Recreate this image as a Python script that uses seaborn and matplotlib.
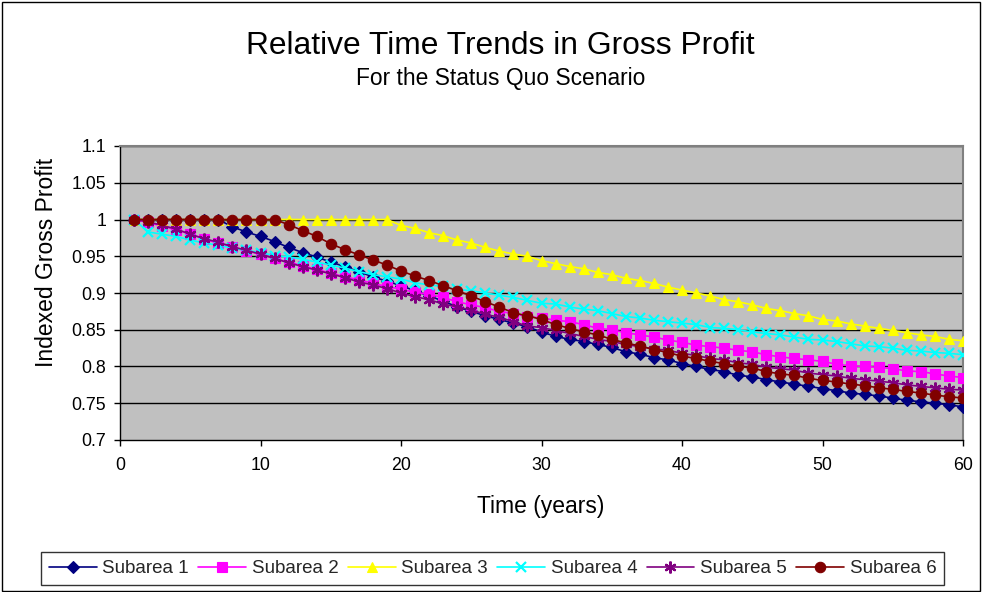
import numpy as np
import pandas as pd
import seaborn as sns
import matplotlib
matplotlib.use("Agg")
import matplotlib.pyplot as plt
from matplotlib.patches import Rectangle
from matplotlib.lines import Line2D

# Data: indexed gross profit by subarea, years 1-60
years = list(range(1, 61))

subarea_1 = [1.0, 1.0, 1.0, 1.0, 1.0, 1.0, 1.0, 0.990, 0.983, 0.977,
             0.970, 0.962, 0.955, 0.949, 0.942, 0.936, 0.929, 0.922, 0.916, 0.910,
             0.903, 0.896, 0.889, 0.881, 0.875, 0.869, 0.864, 0.859, 0.854, 0.847,
             0.841, 0.837, 0.834, 0.830, 0.826, 0.820, 0.817, 0.812, 0.809, 0.804,
             0.800, 0.796, 0.793, 0.788, 0.786, 0.782, 0.779, 0.776, 0.773, 0.770,
             0.767, 0.764, 0.762, 0.760, 0.757, 0.754, 0.752, 0.750, 0.748, 0.745]

subarea_2 = [1.0, 0.996, 0.991, 0.986, 0.980, 0.973, 0.968, 0.962, 0.957, 0.953,
             0.947, 0.942, 0.937, 0.932, 0.927, 0.922, 0.918, 0.913, 0.909, 0.905,
             0.901, 0.898, 0.894, 0.888, 0.884, 0.880, 0.875, 0.872, 0.868, 0.866,
             0.863, 0.861, 0.857, 0.852, 0.850, 0.846, 0.843, 0.840, 0.836, 0.833,
             0.829, 0.827, 0.825, 0.822, 0.820, 0.816, 0.813, 0.811, 0.809, 0.807,
             0.803, 0.801, 0.800, 0.799, 0.797, 0.794, 0.793, 0.790, 0.787, 0.785]

subarea_3 = [1.0] * 19 + [
             0.992, 0.988, 0.982, 0.978, 0.972, 0.968, 0.962, 0.957, 0.953, 0.950,
             0.944, 0.940, 0.936, 0.933, 0.928, 0.925, 0.920, 0.917, 0.913, 0.908,
             0.904, 0.900, 0.896, 0.891, 0.888, 0.884, 0.879, 0.876, 0.872, 0.869,
             0.864, 0.862, 0.858, 0.855, 0.852, 0.849, 0.846, 0.843, 0.841, 0.837,
             0.835]

subarea_4 = [1.0, 0.983, 0.980, 0.977, 0.972, 0.968, 0.965, 0.961, 0.958, 0.955,
             0.951, 0.949, 0.946, 0.942, 0.938, 0.934, 0.929, 0.925, 0.922, 0.919,
             0.914, 0.911, 0.909, 0.905, 0.903, 0.900, 0.897, 0.894, 0.890, 0.886,
             0.885, 0.881, 0.878, 0.876, 0.872, 0.868, 0.866, 0.863, 0.861, 0.859,
             0.857, 0.853, 0.852, 0.850, 0.847, 0.845, 0.843, 0.840, 0.837, 0.836,
             0.834, 0.831, 0.828, 0.827, 0.825, 0.822, 0.821, 0.819, 0.818, 0.816]

subarea_5 = [1.0, 0.997, 0.992, 0.987, 0.980, 0.974, 0.969, 0.963, 0.958, 0.953,
             0.947, 0.941, 0.936, 0.931, 0.926, 0.921, 0.915, 0.911, 0.906, 0.900,
             0.895, 0.891, 0.885, 0.881, 0.877, 0.871, 0.867, 0.861, 0.855, 0.853,
             0.849, 0.845, 0.841, 0.837, 0.834, 0.830, 0.827, 0.824, 0.822, 0.818,
             0.815, 0.811, 0.809, 0.805, 0.803, 0.799, 0.797, 0.795, 0.791, 0.789,
             0.787, 0.784, 0.782, 0.780, 0.778, 0.775, 0.773, 0.771, 0.769, 0.768]

subarea_6 = [1.0] * 11 + [
             0.993, 0.985, 0.977, 0.967, 0.959, 0.952, 0.945, 0.938, 0.930,
             0.923, 0.917, 0.910, 0.903, 0.896, 0.888, 0.881, 0.873, 0.869, 0.864,
             0.857, 0.852, 0.847, 0.843, 0.837, 0.832, 0.828, 0.823, 0.819, 0.814,
             0.811, 0.807, 0.804, 0.800, 0.798, 0.793, 0.790, 0.788, 0.784, 0.781,
             0.779, 0.776, 0.774, 0.771, 0.769, 0.766, 0.764, 0.761, 0.759, 0.757]

series_names = ["Subarea 1", "Subarea 2", "Subarea 3",
                "Subarea 4", "Subarea 5", "Subarea 6"]
series_values = [subarea_1, subarea_2, subarea_3, subarea_4, subarea_5, subarea_6]

x_ticks = [0, 10, 20, 30, 40, 50, 60]
y_ticks = [0.7, 0.75, 0.8, 0.85, 0.9, 0.95, 1.0, 1.05, 1.1]
y_tick_labels = ["0.7", "0.75", "0.8", "0.85", "0.9", "0.95", "1", "1.05", "1.1"]

# Visual style per series
colors = ["#000080", "#FF00FF", "#FFFF00", "#00FFFF", "#800080", "#800000"]
markers = ["D", "s", "^", "x", (6, 2, 0), "o"]
msizes = [6.0, 6.5, 7.5, 7.5, 8.5, 7.5]
filled = [True, True, True, False, False, True]

sns.set_theme(style="white")
plt.rcParams["font.family"] = ["Liberation Sans", "DejaVu Sans"]

fig = plt.figure(figsize=(9.83, 5.92), dpi=100)
fig.patch.set_facecolor("white")
ax = fig.add_axes([120 / 983, 1 - 440 / 592, (963 - 120) / 983, (440 - 146) / 592])
ax.set_facecolor("#C0C0C0")

# Horizontal gridlines
for yv in y_ticks[1:]:
    ax.axhline(yv, color="black", lw=1.0, zorder=1)

df = pd.DataFrame({"year": years})
for name, vals, c, m, ms, f in zip(series_names, series_values, colors, markers, msizes, filled):
    df[name] = vals
    kw = dict(marker=m, markersize=ms, markeredgecolor=c, linewidth=1.2)
    if f:
        kw["markerfacecolor"] = c
        kw["markeredgewidth"] = 0.8
    else:
        kw["markeredgewidth"] = 1.6
    sns.lineplot(data=df, x="year", y=name, ax=ax, color=c, zorder=3, **kw)

ax.set_xlim(0, 60)
ax.set_ylim(0.7, 1.1)
ax.set_xticks(x_ticks)
ax.set_xticklabels([str(v) for v in x_ticks])
ax.set_yticks(y_ticks)
ax.set_yticklabels(y_tick_labels)
ax.tick_params(axis="both", direction="out", length=4, width=1, color="black",
               labelsize=12.8, labelcolor="black")
ax.tick_params(axis="x", pad=8, bottom=True)
ax.tick_params(axis="y", pad=6, left=True)
ax.set_xlabel("")
ax.set_ylabel("")

for side in ["left", "bottom"]:
    ax.spines[side].set_color("black")
    ax.spines[side].set_linewidth(1.0)
for side in ["right", "top"]:
    ax.spines[side].set_color("#808080")
    ax.spines[side].set_linewidth(1.5)

# Titles and axis labels
fig.text(500 / 983, 1 - 54 / 592, "Relative Time Trends in Gross Profit",
         ha="center", va="baseline", fontsize=22.9, color="black")
fig.text(501 / 983, 1 - 85 / 592, "For the Status Quo Scenario",
         ha="center", va="baseline", fontsize=16.4, color="black")
fig.text(541 / 983, 1 - 507 / 592, "Time (years)",
         ha="center", va="center", fontsize=16.5, color="black")
fig.text(47 / 983, 1 - 262 / 592, "Indexed Gross Profit", rotation=90,
         ha="center", va="center", fontsize=16.5, color="black")

# Legend along the bottom
handles = []
for name, c, m, ms, f in zip(series_names, colors, markers, msizes, filled):
    h = Line2D([0], [0], color=c, marker=m, markersize=ms, linewidth=1.2,
               markeredgecolor=c, markerfacecolor=c if f else "none",
               markeredgewidth=0.8 if f else 1.6)
    handles.append(h)
leg = fig.legend(handles, series_names, loc="center", ncol=6,
                 bbox_to_anchor=(492.5 / 983, 1 - 568.5 / 592), frameon=True,
                 fancybox=False, shadow=False, fontsize=13.5, handlelength=2.55,
                 handletextpad=0.3, columnspacing=0.5, borderpad=0.4,
                 borderaxespad=0.0)
leg.get_frame().set_edgecolor("black")
leg.get_frame().set_linewidth(1.0)

# Outer chart border
fig.patches.append(Rectangle((0.002, 0.002), 0.995, 0.995, transform=fig.transFigure,
                             fill=False, edgecolor="black", linewidth=1.0))

fig.savefig("out.png", dpi=100, facecolor="white")
